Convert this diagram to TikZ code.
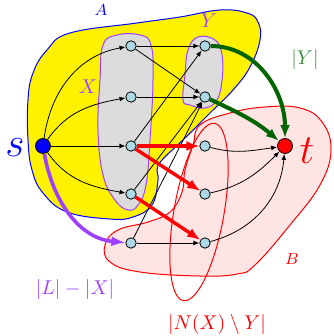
\documentclass[tikz,border=0pt]{standalone}
\usepackage{xcolor}
\usepackage{tikz}
\usetikzlibrary{arrows.meta,positioning}
\definecolor{GVViolet}{HTML}{A040FF}
\definecolor{GVGreen}{HTML}{006400}
\definecolor{GVLabelGreen}{HTML}{3C8C3C}
\definecolor{GVGray}{HTML}{DCDCDC}
\definecolor{GVPink}{HTML}{FFE4E4}
\definecolor{GVNode}{HTML}{ADD8E6}

\begin{document}
\begin{tikzpicture}[x=0.5pt, y=0.5pt,
  vert/.style={circle, draw, fill=GVNode, inner sep=0pt, minimum size=5.2pt, line width=0.4pt},
  term/.style={circle, draw, inner sep=0pt, minimum size=7.5pt, line width=0.4pt},
  arc/.style={-{Latex[length=3pt,width=2.4pt]}, line width=0.4pt},
  redarc/.style={-{Latex[length=6.5pt,width=5pt]}, red, line width=1.7pt},
  greenarc/.style={-{Latex[length=6.5pt,width=5pt]}, GVGreen, line width=2pt}]
\useasboundingbox (0,0) rectangle (333,336);

% sets A and B
\draw[blue, fill=yellow, line width=0.5pt] plot[smooth cycle, tension=0.7] coordinates {
  (28,236) (33,263) (47,286) (70,303) (137,313) (180,319) (220,326) (247,323)
  (258,314) (260,296) (250,269) (233,246) (210,223) (183,196) (162,176)
  (157,166) (158,156) (152,131) (133,119) (110,117) (67,124) (43,143) (32,166) (28,196)};
\draw[red, fill=GVPink, line width=0.5pt] plot[smooth cycle, tension=0.7] coordinates {
  (200,211) (230,223) (265,229) (300,228) (322,214) (331,186) (320,151) (290,111)
  (255,71) (237,62) (200,60) (140,64) (110,74) (105,91) (118,106) (148,114)
  (170,124) (182,144) (185,166) (193,191)};
% X and Y
\draw[GVViolet, fill=GVGray, line width=0.5pt] plot[smooth cycle, tension=0.7] coordinates {
  (103,291) (117,301) (140,301) (151,291) (153,256) (150,196) (146,151)
  (138,131) (128,126) (115,136) (103,161) (98,206) (100,256)};
\draw[GVViolet, fill=GVGray, line width=0.5pt] plot[smooth cycle, tension=0.7] coordinates {
  (188,286) (198,299) (215,296) (222,281) (222,256) (217,236) (205,228)
  (190,231) (183,236) (185,261)};
% N(X) minus Y
\draw[red, line width=0.5pt, rotate around={-10:(199,124)}] (199,124) ellipse [x radius=25, y radius=90];

% labels
\node[blue] (labA) at (101,326) {\footnotesize$A$};
\node[red] (labB) at (292,77) {\footnotesize$B$};
\node[GVViolet] (labX) at (88,249) {$X$};
\node[GVViolet] (labY) at (209,315) {$Y$};
\node[GVLabelGreen] (labYsize) at (305,276) {$|Y|$};
\node[GVViolet] (labL) at (75,46) {$|L|-|X|$};
\node[red] (labN) at (217,11) {$|N(X)\setminus Y|$};
\node[blue] (labs) at (15,188) {\huge$s$};
\node[red] (labt) at (307,185) {\huge$t$};

% vertices
\node[term, fill=blue] (s) at (43,190) {};
\node[term, fill=red] (t) at (285,190) {};
\node[vert] (L1) at (131,290) {};
\node[vert] (L2) at (131,239) {};
\node[vert] (L3) at (131,190) {};
\node[vert] (L4) at (131,142) {};
\node[vert] (L5) at (131,93) {};
\node[vert] (R1) at (205,290) {};
\node[vert] (R2) at (205,239) {};
\node[vert] (R3) at (205,190) {};
\node[vert] (R4) at (205,142) {};
\node[vert] (R5) at (205,93) {};

% edges out of s
\draw[arc] (s) to[out=82, in=190] (L1);
\draw[arc] (s) to[out=55, in=190] (L2);
\draw[arc] (s) -- (L3);
\draw[arc] (s) to[out=-55, in=170] (L4);
\draw[-{Latex[length=7pt,width=5pt]}, GVViolet, line width=1.8pt] (s) to[out=-80, in=175] (L5);

% middle edges
\draw[arc] (L1) -- (R1);
\draw[arc] (L1) -- (R2);
\draw[arc] (L2) -- (R2);
\draw[arc] (L3) -- (R1);
\draw[arc] (L4) -- (R2);
\draw[arc] (L5) -- (R2);
\draw[arc] (L5) -- (R5);
\draw[redarc] (L3) -- (R3);
\draw[redarc] (L3) -- (R4);
\draw[redarc] (L4) -- (R5);

% edges into t
\draw[greenarc] (R1) to[out=0, in=90] (t);
\draw[greenarc] (R2) to[out=-25, in=140] (t);
\draw[arc] (R3) to[out=-15, in=188] (t);
\draw[arc] (R4) to[out=12, in=-135] (t);
\draw[arc] (R5) to[out=15, in=-95] (t);
\end{tikzpicture}
\end{document}
